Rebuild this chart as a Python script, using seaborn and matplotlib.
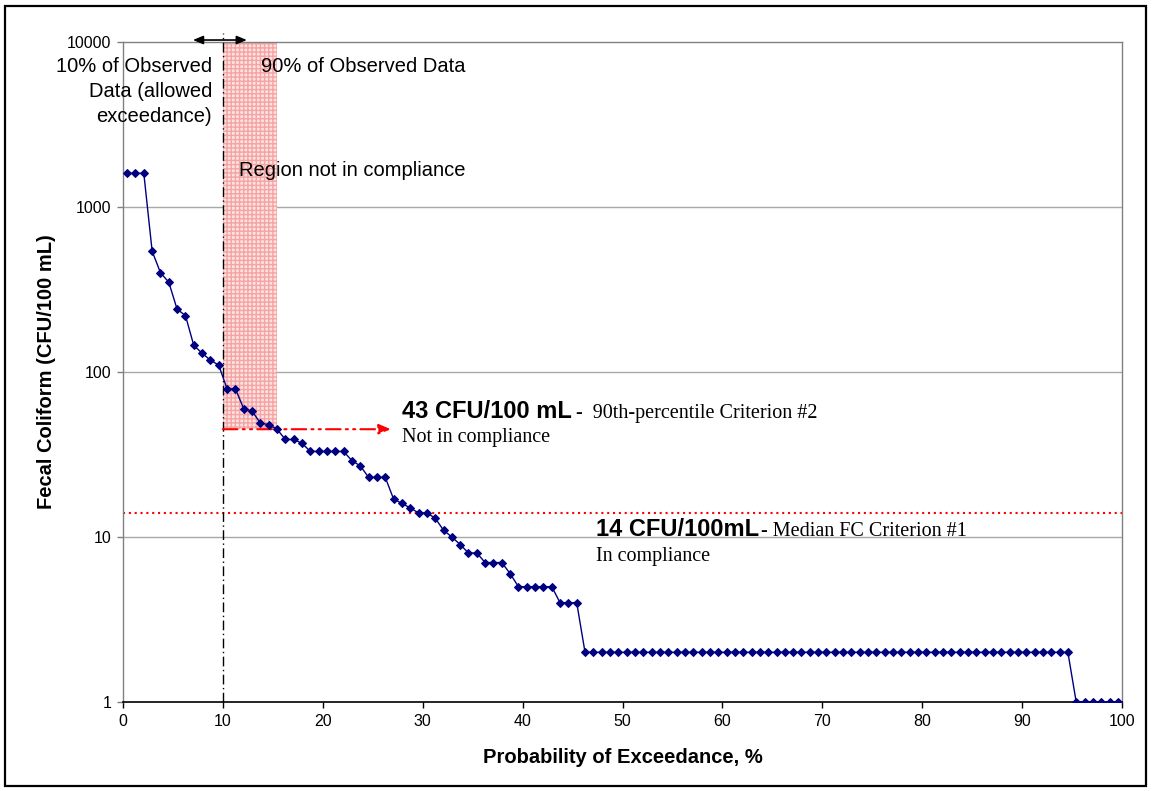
import numpy as np
import pandas as pd
import matplotlib
matplotlib.use("Agg")
import matplotlib.pyplot as plt
import seaborn as sns
from matplotlib.patches import Rectangle
from matplotlib.ticker import FixedLocator, NullLocator

# ---------------- data ----------------
# Fecal coliform samples sorted from highest to lowest, CFU/100 mL
fc_values = [
    1600, 1600, 1600, 540, 400, 350, 240, 220, 145, 130, 118, 110,
    79, 79, 60, 58, 49, 48, 45, 39, 39, 37,
    33, 33, 33, 33, 33, 29, 27, 23, 23, 23,
    17, 16, 15, 14, 14, 13, 11, 10, 9, 8, 8,
    7, 7, 7, 6, 5, 5, 5, 5, 5, 4, 4, 4,
    2, 2, 2, 2, 2, 2, 2, 2, 2, 2, 2, 2, 2, 2, 2, 2, 2, 2, 2, 2,
    2, 2, 2, 2, 2, 2, 2, 2, 2, 2, 2, 2, 2, 2, 2, 2, 2, 2, 2, 2,
    2, 2, 2, 2, 2, 2, 2, 2, 2, 2, 2, 2, 2, 2, 2, 2, 2, 2, 2,
    1, 1, 1, 1, 1, 1,
]
median_criterion = 14        # CFU/100 mL, criterion #1
p90_criterion_line = 45      # drawn level of the 43 CFU/100 mL line
allowed_exceedance = 10      # %
noncompliance_end = 15.4     # % where curve falls below criterion #2

y_ticks = [1, 10, 100, 1000, 10000]
y_tick_labels = ["1", "10", "100", "1000", "10000"]
x_ticks = [0, 10, 20, 30, 40, 50, 60, 70, 80, 90, 100]
x_tick_labels = ["0", "10", "20", "30", "40", "50", "60", "70", "80", "90", "100"]

n = len(fc_values)
rank = np.arange(1, n + 1)
exceedance = (rank - 0.5) / n * 100.0
df = pd.DataFrame({"exceedance": exceedance, "fc": fc_values})

# ---------------- figure ----------------
sns.set_style("white")
plt.rcParams["font.family"] = ["Liberation Sans", "DejaVu Sans"]
plt.rcParams["text.color"] = "black"
plt.rcParams["axes.labelcolor"] = "black"
SERIF = ["Liberation Serif", "DejaVu Serif"]

W, H = 1152, 791
fig = plt.figure(figsize=(W / 100, H / 100), dpi=100)
ax = fig.add_axes([123 / W, 89 / H, 999 / W, 660 / H])
ax.set_yscale("log")

# shaded region of non-compliance
ax.fill_between([allowed_exceedance, noncompliance_end], p90_criterion_line, 10000,
                facecolor="#fde2e2", edgecolor="#f5a3a3", hatch="++++",
                linewidth=0, zorder=1)

# horizontal gridlines
for yt in y_ticks[1:-1]:
    ax.axhline(yt, color="#a8a8a8", lw=1, zorder=0.5)

# median criterion line
ax.axhline(median_criterion, color="red", ls=(0, (1, 1.8)), lw=1.5, zorder=2)

# data
sns.lineplot(data=df, x="exceedance", y="fc", ax=ax, color="#000080",
             marker="D", markersize=4, markeredgecolor="#000080",
             linewidth=1, zorder=4, sort=False)

# 10% vertical line
ax.plot([allowed_exceedance, allowed_exceedance], [1, 11300], color="black",
        ls=(0, (7, 2.5, 1, 2.5)), lw=1, clip_on=False, zorder=3)

# 90th-percentile criterion arrow
ax.annotate("", xy=(26.8, p90_criterion_line), xytext=(allowed_exceedance, p90_criterion_line),
            arrowprops=dict(arrowstyle="-|>,head_length=0.7,head_width=0.3",
                            color="red", ls=(0, (7, 2.5, 1, 2.5, 1, 2.5)), lw=1.5,
                            shrinkA=0, shrinkB=0), zorder=3)

# double-headed arrow at top
ax.annotate("", xy=(12.4, 10280), xytext=(7.0, 10280),
            arrowprops=dict(arrowstyle="<|-|>,head_length=0.6,head_width=0.25",
                            color="black", lw=1.2, shrinkA=0, shrinkB=0),
            annotation_clip=False, zorder=5)

# text annotations
fs = 14.5
tc = "black"
ax.text(8.9, 6579, "10% of Observed", ha="right", va="baseline", fontsize=fs, color=tc)
ax.text(8.9, 4645, "Data (allowed", ha="right", va="baseline", fontsize=fs, color=tc)
ax.text(8.9, 3275, "exceedance)", ha="right", va="baseline", fontsize=fs, color=tc)
ax.text(13.8, 6579, "90% of Observed Data", ha="left", va="baseline", fontsize=fs, color=tc)
ax.text(11.6, 1541, "Region not in compliance", ha="left", va="baseline", fontsize=fs,
        color=tc)

ax.text(27.9, 52.6, "43 CFU/100 mL", ha="left", va="baseline", fontsize=17,
        fontweight="bold", color=tc)
ax.text(45.3, 52.6, "-  90th-percentile Criterion #2", ha="left", va="baseline",
        fontsize=fs, family=SERIF, color=tc)
ax.text(27.9, 37.6, "Not in compliance", ha="left", va="baseline", fontsize=fs,
        family=SERIF, color=tc)

ax.text(47.3, 10.2, "14 CFU/100mL", ha="left", va="baseline", fontsize=17,
        fontweight="bold", color=tc)
ax.text(63.9, 10.2, "- Median FC Criterion #1", ha="left", va="baseline",
        fontsize=fs, family=SERIF, color=tc)
ax.text(47.3, 7.15, "In compliance", ha="left", va="baseline", fontsize=fs,
        family=SERIF, color=tc)

# axes setup
ax.set_xlim(0, 100)
ax.set_ylim(1, 10000)
ax.yaxis.set_major_locator(FixedLocator(y_ticks))
ax.yaxis.set_minor_locator(NullLocator())
ax.set_yticklabels(y_tick_labels)
ax.set_xticks(x_ticks)
ax.set_xticklabels(x_tick_labels)
ax.tick_params(axis="both", which="major", labelsize=11.5, direction="out",
               length=4.5, width=1, pad=4, left=True, bottom=True)
ax.tick_params(axis="y", colors="#808080", labelcolor="black")
ax.tick_params(axis="x", colors="black", labelcolor="black")

for side in ["left", "top", "right"]:
    ax.spines[side].set_color("#808080")
    ax.spines[side].set_linewidth(1)
ax.spines["bottom"].set_color("black")
ax.spines["bottom"].set_linewidth(1.2)

ax.set_xlabel("Probability of Exceedance, %", fontsize=14.5, fontweight="bold",
              color="black")
ax.set_ylabel("Fecal Coliform (CFU/100 mL)", fontsize=14.5, fontweight="bold",
              color="black")
ax.xaxis.set_label_coords(0.5, -0.0697)
ax.yaxis.set_label_coords(-0.067, 0.5)

# outer border
fig.add_artist(Rectangle((5 / W, 5 / H), 1141 / W, 780 / H, transform=fig.transFigure,
                         fill=False, edgecolor="black", lw=1.6))

fig.savefig("out.png", dpi=100)
